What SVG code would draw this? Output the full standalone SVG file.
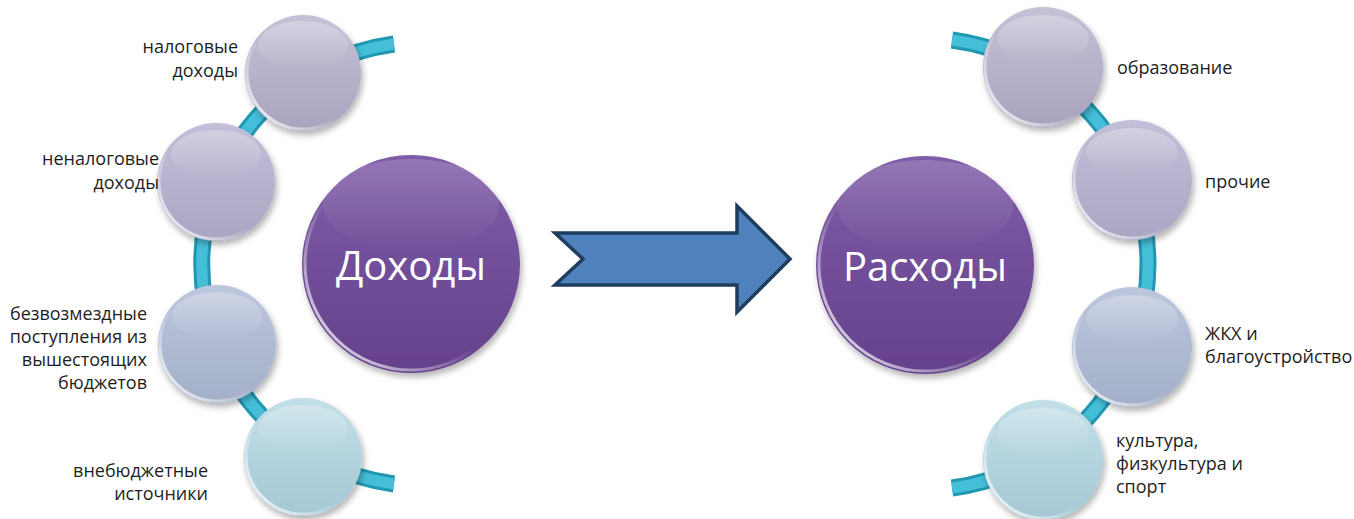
<svg xmlns="http://www.w3.org/2000/svg" width="1354" height="519" viewBox="0 0 1354 519">
<style>
.lbl{font-family:"Open Sans","Liberation Sans",sans-serif;font-size:18px;fill:#1e1e1e}
.big{font-family:"Open Sans","Liberation Sans",sans-serif;font-size:40px;fill:#ffffff}
.rim{fill:none;stroke:url(#rim);stroke-width:3}
.shine{fill:url(#shine)}
.rib-o{fill:none;stroke:#2198b2;stroke-width:17;stroke-linecap:butt}
.rib-i{fill:none;stroke:#45bed8;stroke-width:11;stroke-linecap:butt}
</style>
<defs>
<filter id="sh" x="-30%" y="-30%" width="160%" height="160%">
<feDropShadow dx="2" dy="4" stdDeviation="3" flood-color="#000" flood-opacity="0.3"/>
</filter>
<linearGradient id="g1" x1="0" y1="0" x2="0" y2="1"><stop offset="0" stop-color="#c6c1d6"/><stop offset="1" stop-color="#aaa3be"/></linearGradient>
<linearGradient id="g2" x1="0" y1="0" x2="0" y2="1"><stop offset="0" stop-color="#c2c0d8"/><stop offset="1" stop-color="#a8a6c3"/></linearGradient>
<linearGradient id="g3" x1="0" y1="0" x2="0" y2="1"><stop offset="0" stop-color="#bcc6dd"/><stop offset="1" stop-color="#a4afc9"/></linearGradient>
<linearGradient id="g4" x1="0" y1="0" x2="0" y2="1"><stop offset="0" stop-color="#c2dfe8"/><stop offset="1" stop-color="#a5c8d4"/></linearGradient>
<linearGradient id="gp" x1="0" y1="0" x2="0" y2="1"><stop offset="0" stop-color="#7f5ca8"/><stop offset="1" stop-color="#65418b"/></linearGradient>
<linearGradient id="rim" x1="0" y1="1" x2="1" y2="0"><stop offset="0" stop-color="#ffffff" stop-opacity="1"/><stop offset="0.45" stop-color="#ffffff" stop-opacity="0"/></linearGradient>
<linearGradient id="shine" x1="0" y1="0" x2="0" y2="1"><stop offset="0" stop-color="#ffffff" stop-opacity="0.28"/><stop offset="1" stop-color="#ffffff" stop-opacity="0"/></linearGradient>
</defs>

<g id="connectors">
<path class="rib-o" d="M 394 44 A 222 222 0 0 0 394 484"/>
<path class="rib-i" d="M 394 44 A 222 222 0 0 0 394 484"/>
<path class="rib-o" d="M 952 40 A 226 226 0 0 1 952 488"/>
<path class="rib-i" d="M 952 40 A 226 226 0 0 1 952 488"/>
<polygon id="arrow" points="555,233 737,233 737,206 790,259 737,312 737,285 555,285 583,259" fill="#4f81bd" stroke="#1f3d5e" stroke-width="3.5" stroke-linejoin="miter"/>
</g>

<g id="n-dohody">
<circle cx="411" cy="264" r="109" fill="url(#gp)" filter="url(#sh)"/>
<ellipse cx="411" cy="205" rx="88" ry="46" class="shine" opacity="0.6"/>
<circle cx="411" cy="264" r="106" class="rim"/>
<text class="big" x="411" y="280" text-anchor="middle">Доходы</text>
</g>
<g id="n-rashody">
<circle cx="925" cy="265" r="109" fill="url(#gp)" filter="url(#sh)"/>
<ellipse cx="925" cy="206" rx="88" ry="46" class="shine" opacity="0.6"/>
<circle cx="925" cy="265" r="106" class="rim"/>
<text class="big" x="925" y="281" text-anchor="middle">Расходы</text>
</g>

<g id="n-nalog">
<circle cx="303" cy="73" r="58" fill="url(#g1)" filter="url(#sh)"/>
<ellipse cx="303" cy="45" rx="45" ry="24" class="shine"/>
<circle cx="303" cy="73" r="56" class="rim"/>
<text class="lbl" x="238" y="53" text-anchor="end">налоговые</text>
<text class="lbl" x="238" y="77" text-anchor="end">доходы</text>
</g>
<g id="n-nenalog">
<circle cx="216" cy="182" r="59" fill="url(#g2)" filter="url(#sh)"/>
<ellipse cx="216" cy="154" rx="45" ry="24" class="shine"/>
<circle cx="216" cy="182" r="57" class="rim"/>
<text class="lbl" x="159" y="165" text-anchor="end">неналоговые</text>
<text class="lbl" x="159" y="189" text-anchor="end">доходы</text>
</g>
<g id="n-bezvozm">
<circle cx="217" cy="344" r="59" fill="url(#g3)" filter="url(#sh)"/>
<ellipse cx="217" cy="316" rx="45" ry="24" class="shine"/>
<circle cx="217" cy="344" r="57" class="rim"/>
<text class="lbl" x="147" y="320" text-anchor="end">безвозмездные</text>
<text class="lbl" x="147" y="343" text-anchor="end">поступления из</text>
<text class="lbl" x="147" y="366" text-anchor="end">вышестоящих</text>
<text class="lbl" x="147" y="389" text-anchor="end">бюджетов</text>
</g>
<g id="n-vnebyudzh">
<circle cx="303" cy="457" r="59" fill="url(#g4)" filter="url(#sh)"/>
<ellipse cx="303" cy="429" rx="45" ry="24" class="shine"/>
<circle cx="303" cy="457" r="57" class="rim"/>
<text class="lbl" x="208" y="477" text-anchor="end">внебюджетные</text>
<text class="lbl" x="208" y="500" text-anchor="end">источники</text>
</g>

<g id="n-obrazovanie">
<circle cx="1043" cy="67" r="60" fill="url(#g1)" filter="url(#sh)"/>
<ellipse cx="1043" cy="39" rx="46" ry="24" class="shine"/>
<circle cx="1043" cy="67" r="58" class="rim"/>
<text class="lbl" x="1117" y="74">образование</text>
</g>
<g id="n-prochie">
<circle cx="1132" cy="180" r="60" fill="url(#g2)" filter="url(#sh)"/>
<ellipse cx="1132" cy="152" rx="46" ry="24" class="shine"/>
<circle cx="1132" cy="180" r="58" class="rim"/>
<text class="lbl" x="1205" y="188">прочие</text>
</g>
<g id="n-zhkh">
<circle cx="1132" cy="347" r="60" fill="url(#g3)" filter="url(#sh)"/>
<ellipse cx="1132" cy="319" rx="46" ry="24" class="shine"/>
<circle cx="1132" cy="347" r="58" class="rim"/>
<text class="lbl" x="1205" y="340">ЖКХ и</text>
<text class="lbl" x="1205" y="363">благоустройство</text>
</g>
<g id="n-kultura">
<circle cx="1043" cy="460" r="60" fill="url(#g4)" filter="url(#sh)"/>
<ellipse cx="1043" cy="432" rx="46" ry="24" class="shine"/>
<circle cx="1043" cy="460" r="58" class="rim"/>
<text class="lbl" x="1116" y="447">культура,</text>
<text class="lbl" x="1116" y="470">физкультура и</text>
<text class="lbl" x="1116" y="493">спорт</text>
</g>
</svg>
